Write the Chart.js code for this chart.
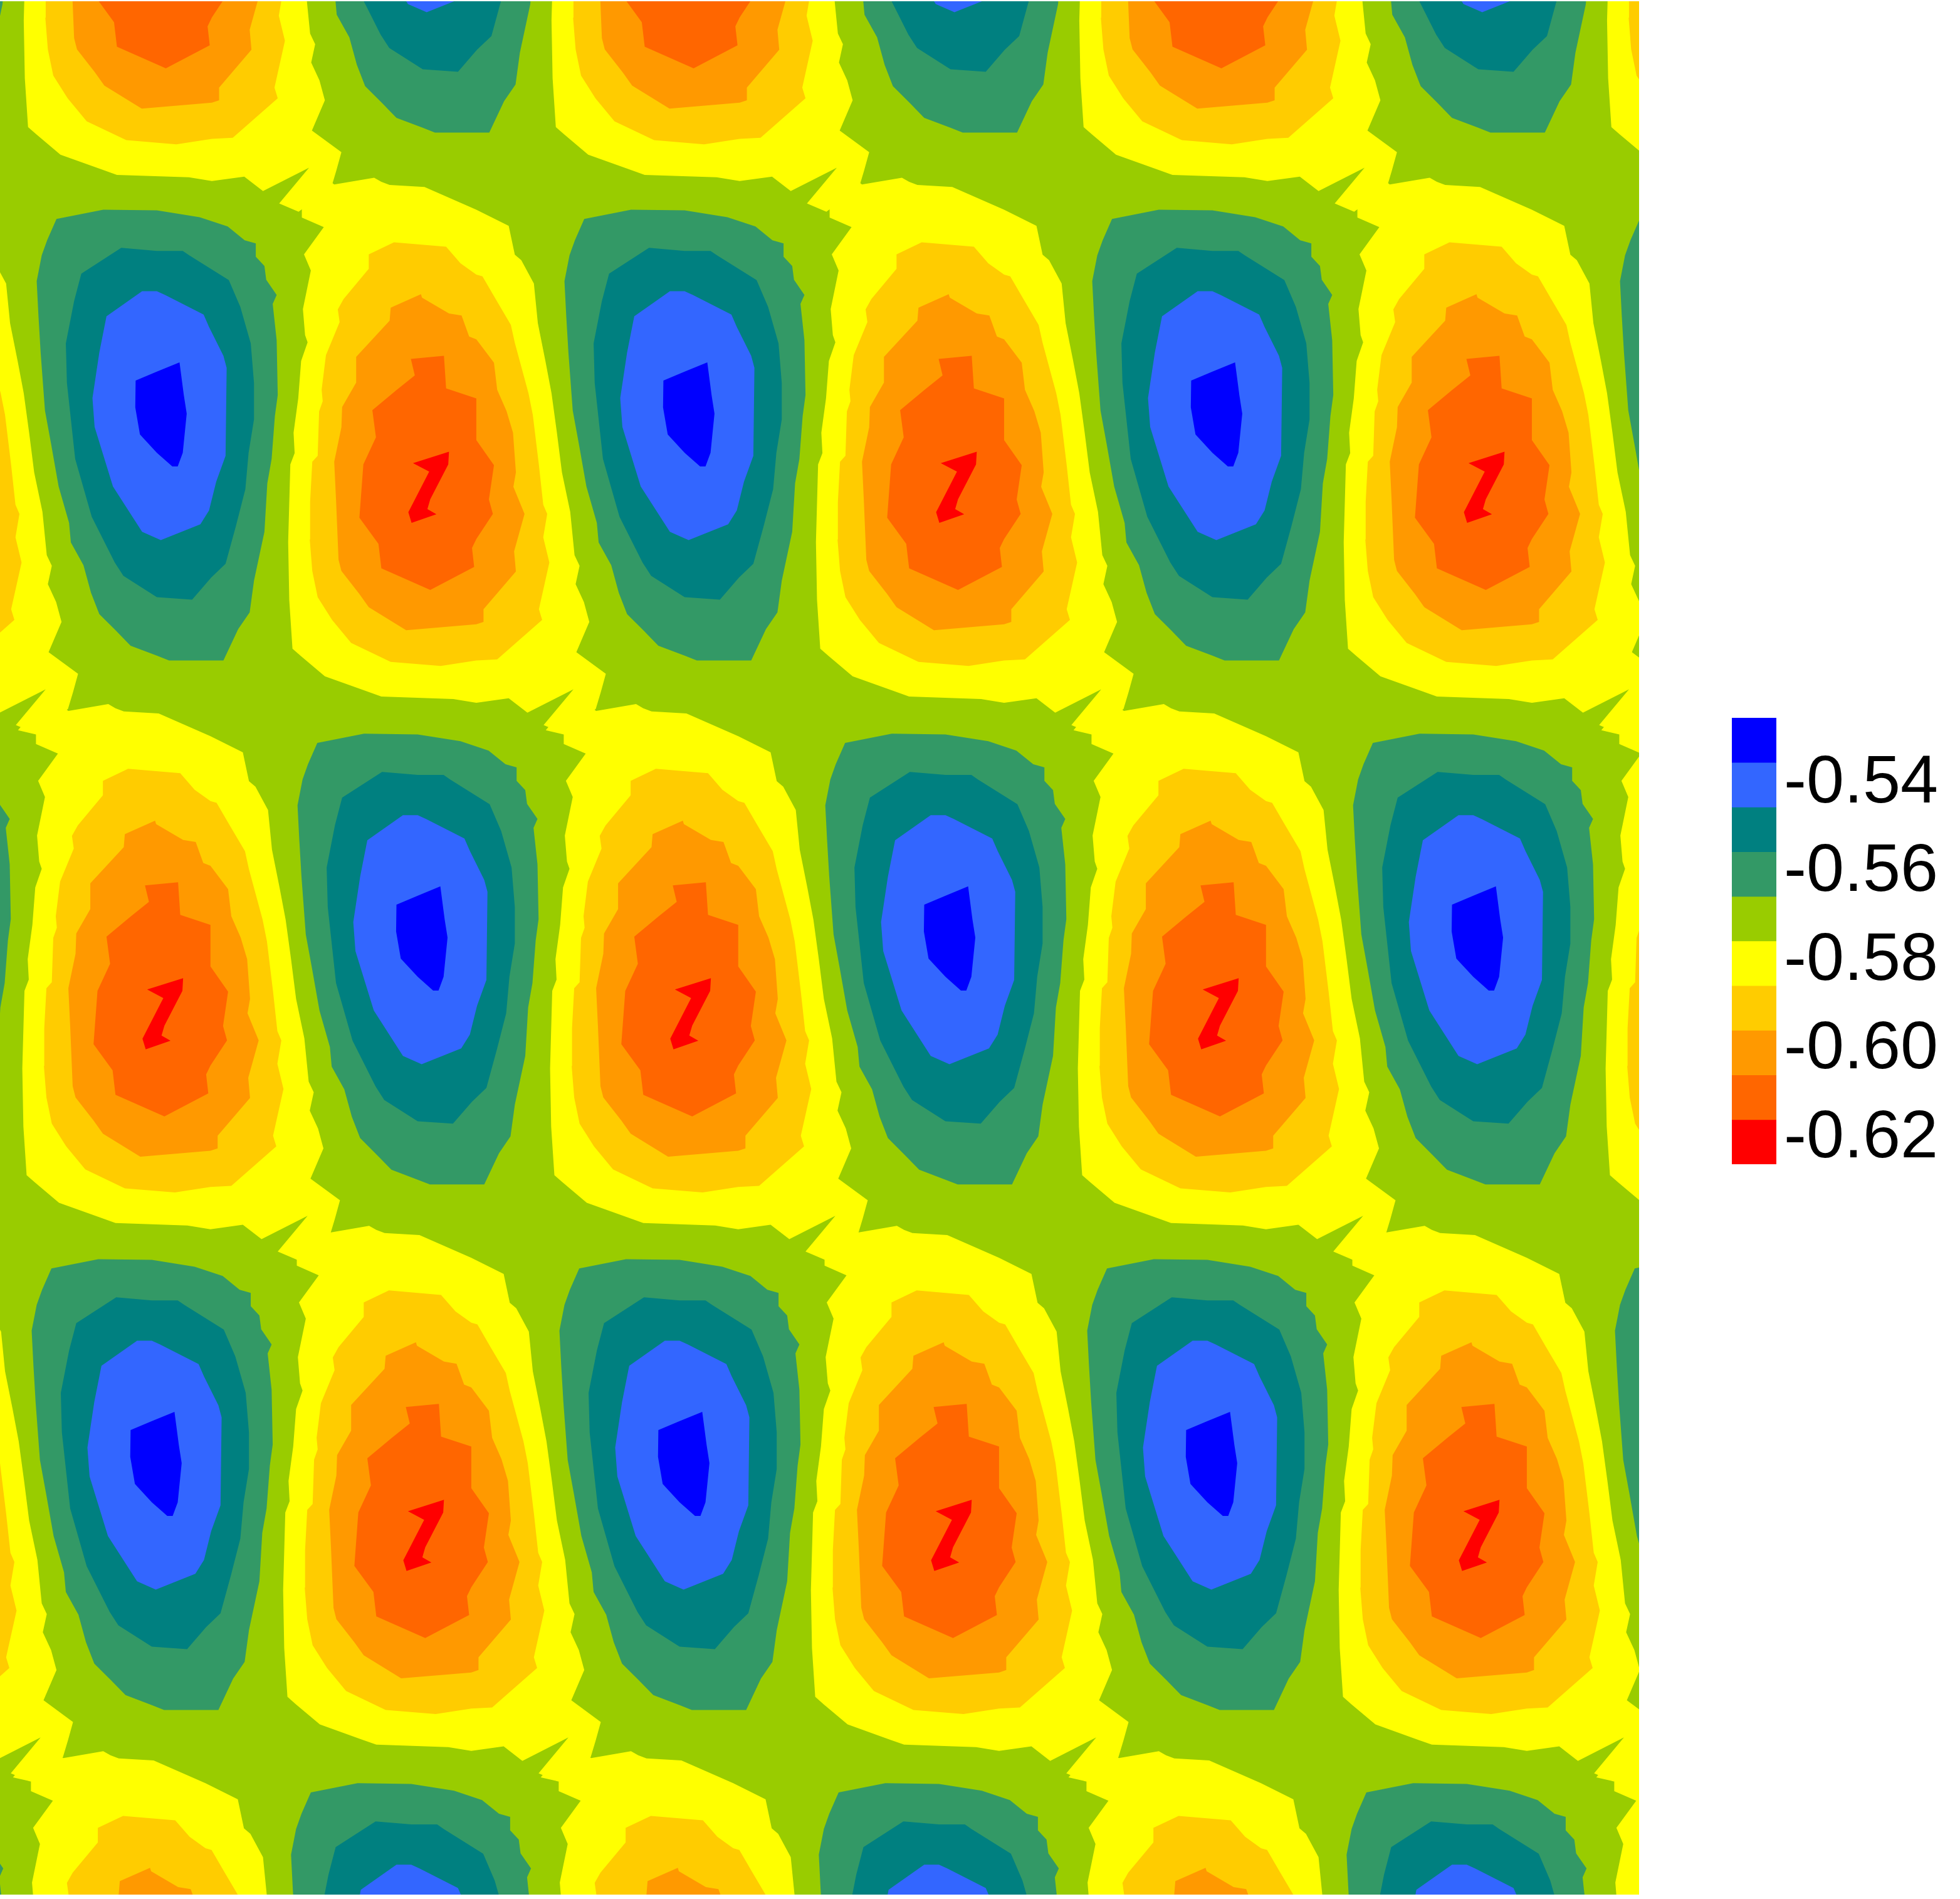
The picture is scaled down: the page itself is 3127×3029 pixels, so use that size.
<!DOCTYPE html>
<html>
<head>
<meta charset="utf-8">
<style>
html,body{margin:0;padding:0;background:#fff;}
body{width:3127px;height:3029px;position:relative;overflow:hidden;}
canvas{position:absolute;display:block;}
</style>
<script src="https://cdn.jsdelivr.net/npm/chart.js@4/dist/chart.umd.min.js"></script>
</head>
<body>
<canvas id="field" width="2615" height="3020" style="left:0;top:2px;width:2615px;height:3020px"></canvas>
<canvas id="bar" width="364" height="712" style="left:2763px;top:1145px;width:364px;height:712px"></canvas>
<script>
// Field axes (arbitrary units; the source figure has no axes)
const fieldX = [0, 4556];
const fieldY = [-507, 4999];

// Colour bar bands, top first, and its labelled levels
const barBands = ['#0000FF','#3366FF','#008080','#339966','#99CC00','#FFFF00','#FFCC00','#FF9900','#FF6600','#FF0000'];
const legendTicks = [-0.54,-0.56,-0.58,-0.60,-0.62];

// Contours around a high cell
const highOuter = [[157,126],[287,99],[436,101],[555,121],[633,148],[680,188],[711,197],[711,236],[735,263],[740,303],[769,347],[758,373],[769,479],[772,638],[764,700],[755,824],[743,895],[735,1036],[706,1178],[694,1270],[662,1319],[621,1410],[470,1410],[436,1396],[363,1367],[322,1323],[276,1275],[253,1213],[232,1133],[197,1067],[192,1010],[163,904],[142,780],[125,683],[113,515],[107,409],[102,307],[116,232],[131,188]];
const highMid = [[337,210],[436,219],[508,219],[526,232],[636,304],[668,382],[697,488],[706,603],[706,709],[691,806],[682,912],[656,1018],[627,1129],[587,1169],[534,1233],[436,1226],[343,1164],[319,1125],[255,992],[209,824],[186,603],[183,488],[206,365],[226,285]];
const highInner = [[395,336],[436,336],[459,347],[566,404],[581,440],[621,524],[630,559],[627,815],[601,890],[581,974],[557,1014],[447,1060],[395,1036],[314,904],[263,731],[257,647],[276,515],[296,409]];
const highCore = [[377,596],[436,570],[499,543],[511,639],[519,692],[508,806],[494,846],[479,846],[436,806],[389,753],[376,674]];

// Contours around a low cell
const lowOuter = [[870,-21],[789,82],[839,94],[839,122],[900,150],[845,229],[864,276],[842,388],[848,464],[855,485],[837,539],[829,648],[816,748],[819,807],[807,840],[801,1066],[804,1234],[813,1376],[836,1397],[903,1456],[1020,1500],[1060,1515],[1260,1522],[1324,1533],[1414,1520],[1466,1562],[1594,1494],[1511,1598],[1565,1622],[1656,1551],[1670,1502],[1684,1449],[1602,1386],[1638,1298],[1623,1240],[1600,1188],[1611,1135],[1597,1104],[1585,978],[1562,863],[1548,748],[1533,633],[1516,539],[1495,429],[1484,314],[1449,246],[1431,230],[1414,146],[1324,99],[1180,33],[1083,27],[1060,18],[1040,6],[929,26]];
const lowMid1 = [[1095,194],[1240,207],[1280,255],[1324,288],[1341,293],[1376,356],[1420,434],[1431,486],[1469,633],[1481,696],[1498,842],[1510,957],[1521,984],[1510,1052],[1527,1125],[1498,1261],[1507,1292],[1382,1407],[1324,1410],[1225,1426],[1086,1414],[976,1359],[923,1292],[883,1226],[868,1150],[861,1058],[862,949],[868,832],[883,815],[887,686],[897,656],[894,623],[906,522],[944,426],[939,389],[955,359],[1025,271],[1025,229]];
const lowMid2 = [[1170,345],[1173,355],[1248,401],[1283,407],[1304,468],[1324,476],[1373,544],[1382,623],[1408,685],[1426,748],[1434,863],[1427,905],[1458,984],[1429,1093],[1434,1151],[1344,1261],[1344,1298],[1324,1305],[1129,1322],[1025,1255],[999,1217],[949,1150],[941,1117],[934,941],[929,832],[949,732],[951,673],[990,602],[990,527],[1083,422],[1086,384]];
const lowInner = [[1142,533],[1234,524],[1240,619],[1324,648],[1324,769],[1373,842],[1359,942],[1370,984],[1324,1057],[1312,1083],[1318,1138],[1196,1205],[1060,1142],[1052,1071],[999,995],[1010,840],[1045,761],[1035,682],[1103,623],[1153,581]];
const lowCore = [[1148,836],[1248,803],[1246,840],[1196,941],[1188,970],[1213,985],[1144,1010],[1135,979],[1193,861]];

// Where each repeat of the two cells sits, read row by row
const columnShifts = [-1467,0,1467,2934,4401];
const highRowShifts = [[739,-1535],[0,0],[725,1524],[-14,3052],[707,4576]];
const lowRowShifts = [[-735,-1517],[0,0],[-739,1531],[-14,3048],[-753,4576]];

function band(poly, color, rows){
  const out = [];
  for (const [rx,ry] of rows){
    for (const cx of columnShifts){
      const pts = poly.map(([x,y]) => ({x:x+rx+cx, y:y+ry}));
      pts.push({...pts[0]});
      out.push({data:pts, backgroundColor:color});
    }
  }
  return out;
}

// Painted bottom to top
const ground = [{x:fieldX[0],y:fieldY[0]},{x:fieldX[1],y:fieldY[0]},{x:fieldX[1],y:fieldY[1]},{x:fieldX[0],y:fieldY[1]},{x:fieldX[0],y:fieldY[0]}];
const layers = [
  {data:ground, backgroundColor:'#99CC00'},
  ...band(lowOuter,'#FFFF00',lowRowShifts),
  ...band(lowMid1,'#FFCC00',lowRowShifts),
  ...band(lowMid2,'#FF9900',lowRowShifts),
  ...band(lowInner,'#FF6600',lowRowShifts),
  ...band(lowCore,'#FF0000',lowRowShifts),
  ...band(highOuter,'#339966',highRowShifts),
  ...band(highMid,'#008080',highRowShifts),
  ...band(highInner,'#3366FF',highRowShifts),
  ...band(highCore,'#0000FF',highRowShifts)
];
const datasets = layers.map((d,i) => ({
  data:d.data, backgroundColor:d.backgroundColor, borderWidth:0, borderColor:d.backgroundColor,
  showLine:true, fill:'shape', pointRadius:0, pointHoverRadius:0, tension:0, order:layers.length-i
}));

new Chart(document.getElementById('field'),{
  type:'scatter',
  data:{datasets},
  options:{
    responsive:false, animation:false, devicePixelRatio:1,
    layout:{padding:0},
    plugins:{legend:{display:false},tooltip:{enabled:false}},
    events:[],
    scales:{
      x:{type:'linear',display:false,min:fieldX[0],max:fieldX[1]},
      y:{type:'linear',display:false,reverse:true,min:fieldY[0],max:fieldY[1]}
    }
  }
});

// Colour bar
new Chart(document.getElementById('bar'),{
  type:'bar',
  data:{
    labels:[''],
    datasets:barBands.map((c,i) => ({
      data:[[barBands.length-i-1, barBands.length-i]],
      backgroundColor:c, borderWidth:0, yAxisID:'band',
      barPercentage:1, categoryPercentage:1, grouped:false
    }))
  },
  options:{
    responsive:false, animation:false, devicePixelRatio:1,
    layout:{padding:0},
    events:[],
    plugins:{legend:{display:false},tooltip:{enabled:false}},
    scales:{
      x:{display:false},
      band:{display:false,min:0,max:barBands.length},
      level:{
        position:'right', min:-0.6258, max:-0.52516,
        grid:{display:false,drawTicks:false}, border:{display:false},
        afterBuildTicks:s => { s.ticks = legendTicks.map(v => ({value:v})); },
        afterFit:s => { s.width = 293; s.paddingTop = 0; s.paddingBottom = 0; },
        ticks:{
          autoSkip:false, maxRotation:0, padding:12, color:'#000',
          font:{family:'"Liberation Sans"',size:108},
          callback:v => v.toFixed(2)
        }
      }
    }
  }
});
</script>
</body>
</html>
